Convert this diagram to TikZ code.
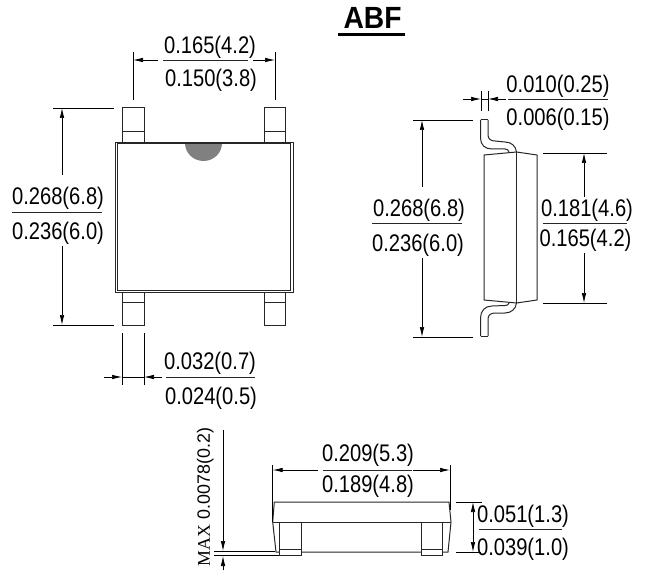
\documentclass[tikz,border=0pt]{standalone}
\usepackage{fontspec}
\setmainfont{Liberation Sans}
\newfontfamily\stretchsans[FakeStretch=0.84]{Liberation Sans}
\newfontfamily\serifmax{Liberation Serif}
\usetikzlibrary{arrows.meta}
\tikzset{
  x=0.75pt,y=-0.75pt,
  lbl/.style={inner sep=0pt,font=\stretchsans\fontsize{18}{18}\selectfont,text height=13pt,text depth=0pt,anchor=center},
  dim/.style={line width=0.55pt,black},
  rulel/.style={line width=0.7pt,black!85},
  part/.style={line width=0.75pt,black!85},
  arr/.style={dim,-{Latex[length=7.5pt,width=3.4pt]}},
  arrb/.style={dim,{Latex[length=7.5pt,width=3.4pt]}-{Latex[length=7.5pt,width=3.4pt]}}
}
\begin{document}
\begin{tikzpicture}
\useasboundingbox (0,0) rectangle (646,574);
% title
\node[inner sep=0pt,font=\fontsize{23}{23}\selectfont\bfseries,text height=16.5pt,text depth=0pt] (title) at (372.5,18) {\scalebox{0.92}[1]{ABF}};
\draw[line width=2.2pt] (338,34.5) -- (405,34.5);

% ---- top view ----
\draw[part] (122,142) -- (122,108) -- (144,108) -- (144,142);
\draw[part] (122,132) -- (144,132);
\draw[part] (264,142) -- (264,108) -- (285,108) -- (285,142);
\draw[part] (264,132) -- (285,132);
\draw[part] (122,292) -- (122,325) -- (144,325) -- (144,292);
\draw[part] (122,302) -- (144,302);
\draw[part] (264,292) -- (264,325) -- (285,325) -- (285,292);
\draw[part] (264,302) -- (285,302);
\fill[black!50] (185,143) arc[start angle=180,end angle=360,x radius=18.5,y radius=-18] -- cycle;
\draw[line width=0.7pt,black!85] (115.5,142) rectangle (293,292);
\draw[line width=0.6pt,black!85] (117.5,143.5) rectangle (290.5,290.5);

\draw[dim] (133,52) -- (133,100);
\draw[dim] (275,52) -- (275,100);
\draw[arr] (158,60) -- (133,60);
\draw[arr] (253,60) -- (275,60);
\draw[rulel] (163,60) -- (248,60);
\node[lbl] (a1) at (210,45) {0.165(4.2)};
\node[lbl] (a2) at (211,78) {0.150(3.8)};

\draw[dim] (53,108) -- (114,108);
\draw[dim] (53,325) -- (114,325);
\draw[arr] (62,175) -- (62,108);
\draw[arr] (62,246) -- (62,325);
\draw[rulel] (12,212) -- (102,212);
\node[lbl] (b1) at (58,196) {0.268(6.8)};
\node[lbl] (b2) at (58,231) {0.236(6.0)};

\draw[dim] (122,333) -- (122,385);
\draw[dim] (144,333) -- (144,385);
\draw[arr] (104,377) -- (122,377);
\draw[arr] (162,377) -- (144,377);
\draw[dim] (122,377) -- (144,377);
\draw[rulel] (166,377) -- (255,377);
\node[lbl] (c1) at (210,361) {0.032(0.7)};
\node[lbl] (c2) at (211,396) {0.024(0.5)};

% ---- side view ----
\draw[part] (480.5,120) -- (488,120);
\draw[part] (480.5,120) -- (480.5,138) .. controls (480.5,145) and (485,149) .. (492,149) -- (505,149) .. controls (507,149) and (508.5,150) .. (509,152);
\draw[part] (488,120) -- (488,135) .. controls (488,139) and (491,141) .. (495,141) -- (505,142) .. controls (511,142) and (516,146) .. (516.5,152);
\draw[part] (484,155) -- (516.5,152) -- (537,155) -- (537,300) -- (516.5,303) -- (484,300) -- cycle;
\draw[part] (516.5,152) -- (516.5,303);
\draw[part] (480.5,336) -- (488,336);
\draw[part] (480.5,336) -- (480.5,318) .. controls (480.5,311) and (485,306) .. (492,306) -- (505,305.5) .. controls (507,305.5) and (508.5,305) .. (509,303);
\draw[part] (488,336) -- (488,319) .. controls (488,315) and (491,313) .. (495,313) -- (505,313) .. controls (511,313) and (516,309) .. (516.5,303);

\draw[dim] (481,91) -- (481,111);
\draw[dim] (488,91) -- (488,111);
\draw[arr] (463,99) -- (481,99);
\draw[arr] (506,99) -- (488,99);
\draw[dim] (481,99) -- (488,99);
\draw[rulel] (508,99) -- (608,99);
\node[lbl] (d1) at (558,84) {0.010(0.25)};
\node[lbl] (d2) at (558,117) {0.006(0.15)};

\draw[dim] (413,120) -- (473,120);
\draw[dim] (413,337) -- (473,337);
\draw[arr] (422,187) -- (422,120);
\draw[arr] (422,258) -- (422,337);
\draw[rulel] (372,223) -- (462,223);
\node[lbl] (e1) at (419,208) {0.268(6.8)};
\node[lbl] (e2) at (418,243) {0.236(6.0)};

\draw[dim] (543,153) -- (607,153);
\draw[dim] (543,303) -- (607,303);
\draw[arr] (584,197) -- (584,153);
\draw[arr] (584,253) -- (584,303);
\draw[rulel] (543,223) -- (627,223);
\node[lbl] (f1) at (587,208) {0.181(4.6)};
\node[lbl] (f2) at (585.5,238) {0.165(4.2)};

% ---- bottom view ----
\draw[part] (274.3,502) -- (449,502) -- (451,522) -- (448,552) -- (276,552) -- (272.7,522) -- cycle;
\draw[part] (272.7,522) -- (451,522);
\filldraw[part,fill=white] (279.5,522) rectangle (301,555.5);
\draw[part] (279.5,549) -- (301,549);
\filldraw[part,fill=white] (421.7,522) rectangle (442.7,555.5);
\draw[part] (421.7,549) -- (442.7,549);

\draw[dim] (272.7,465) -- (272.7,522);
\draw[dim] (450,465) -- (450,510);
\draw[arr] (318,470) -- (272.7,470);
\draw[arr] (413,470) -- (450,470);
\draw[rulel] (323,470) -- (412,470);
\node[lbl] (g1) at (368,453) {0.209(5.3)};
\node[lbl] (g2) at (368,484) {0.189(4.8)};

\draw[dim] (456,502) -- (482,502);
\draw[dim] (456,552) -- (481,552);
\draw[arrb] (473,502) -- (473,552);
\draw[rulel] (479,529) -- (562,529);
\node[lbl] (h1) at (523,513.5) {0.051(1.3)};
\node[lbl] (h2) at (523,547) {0.039(1.0)};

\draw[dim] (214,551.5) -- (275,551.5);
\draw[dim] (214,555) -- (279,555);
\draw[arr] (223,430) -- (223,551);
\draw[arr] (223,570) -- (223,556);
\node[inner sep=0pt,font=\fontsize{13.4}{13.4}\selectfont,text height=9.6pt,text depth=0pt,rotate=90] (m) at (203.5,497) {{\serifmax MAX} 0.0078(0.2)};
\end{tikzpicture}
\end{document}
